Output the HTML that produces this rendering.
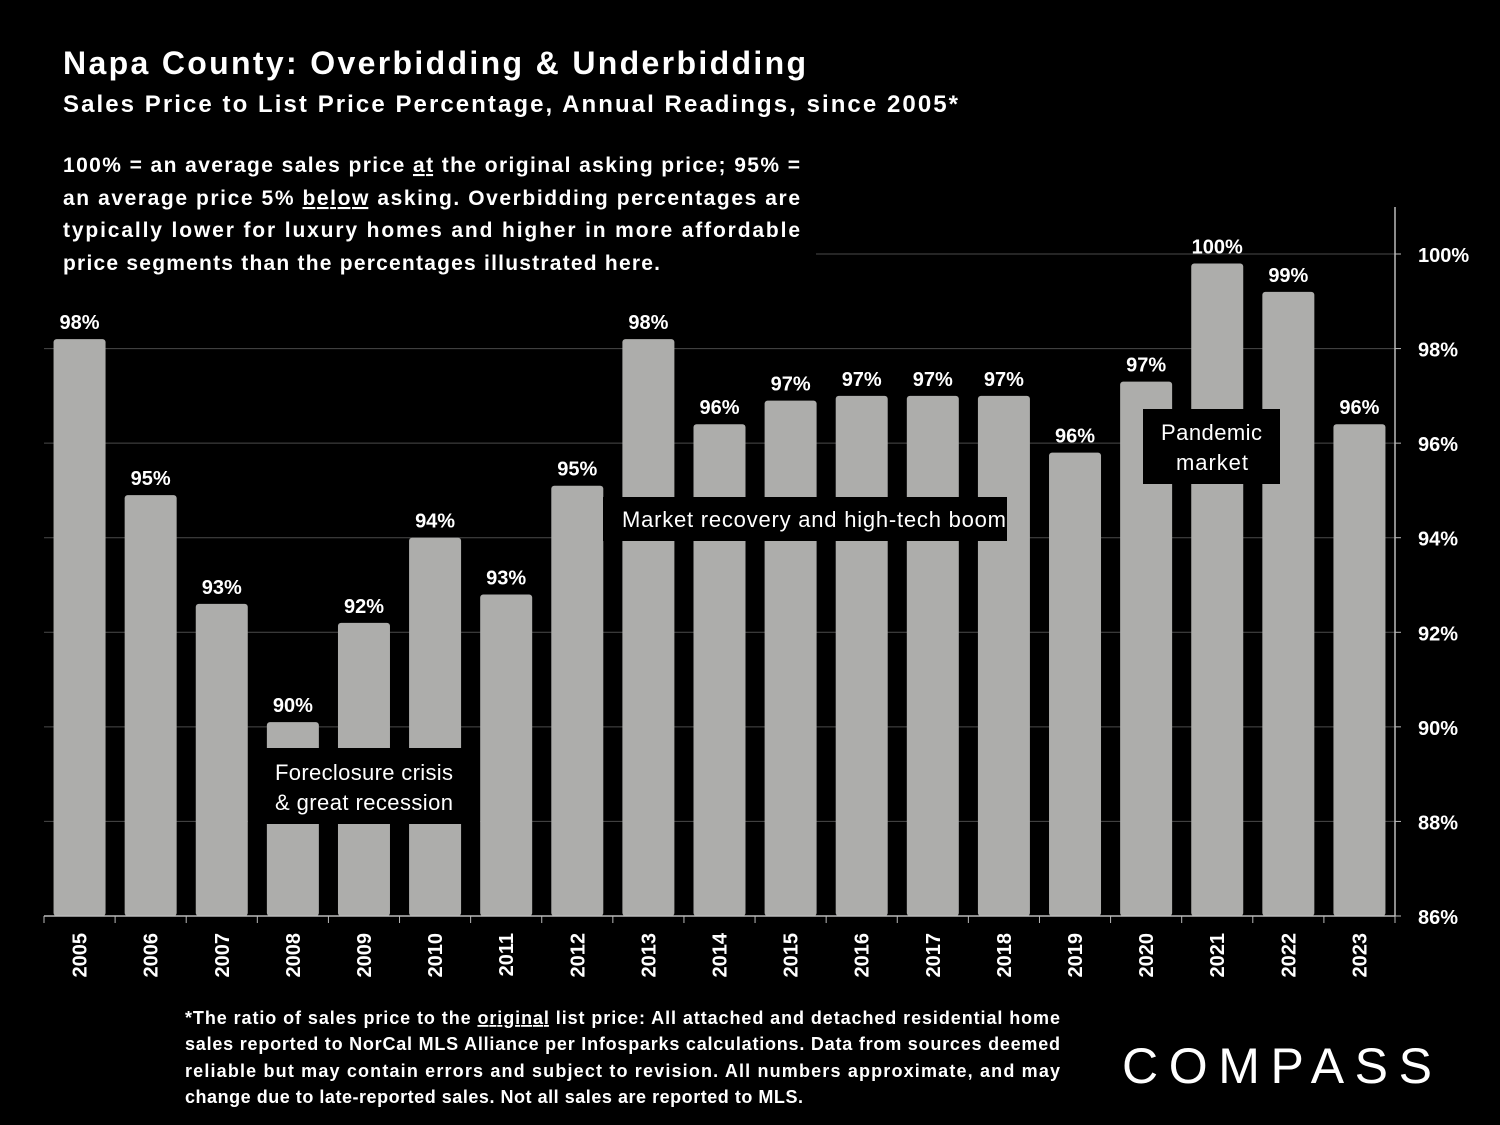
<!DOCTYPE html>
<html><head><meta charset="utf-8"><style>
html,body{margin:0;padding:0;background:#000;}
svg{display:block;font-family:"Liberation Sans",sans-serif;font-weight:bold;}
</style></head><body>
<svg id="chart" width="1500" height="1125" viewBox="0 0 1500 1125">
<rect width="1500" height="1125" fill="#000"/>
<text x="63" y="74" fill="#fff" font-size="32" textLength="743">Napa County: Overbidding &amp; Underbidding</text>
<text x="63" y="112" fill="#fff" font-size="24" textLength="895">Sales Price to List Price Percentage, Annual Readings, since 2005*</text>
<g id="grid"></g>
<g id="bars"></g>
<g id="axes"></g>
<g id="notes"></g>
<text x="1122" y="1083" fill="#fff" font-size="50" font-weight="normal" textLength="318" letter-spacing="8">COMPASS</text>
</svg>
<script>
const years=['2005','2006','2007','2008','2009','2010','2011','2012','2013','2014','2015','2016','2017','2018','2019','2020','2021','2022','2023'];
const values=[98.2,94.9,92.6,90.1,92.2,94.0,92.8,95.1,98.2,96.4,96.9,97.0,97.0,97.0,95.8,97.3,99.8,99.2,96.4];
const valueLabels=['98%','95%','93%','90%','92%','94%','93%','95%','98%','96%','97%','97%','97%','97%','96%','97%','100%','99%','96%'];
const ticks=[86,88,90,92,94,96,98,100];
const tickLabels=['86%','88%','90%','92%','94%','96%','98%','100%'];
const NS='http://www.w3.org/2000/svg';
const X0=44,X1=1395,Y0=916,YT=254,BAND=(X1-X0)/years.length,BW=52;
const y=v=>Y0-(v-86)*(Y0-YT)/14;
const xc=i=>X0+BAND*(i+0.5);
function mk(tag,attrs,parent,text){const e=document.createElementNS(NS,tag);for(const k in attrs)e.setAttribute(k,attrs[k]);if(text!==undefined)e.textContent=text;(typeof parent==='string'?document.getElementById(parent):parent).appendChild(e);return e;}
ticks.forEach((t,i)=>{
  const g=mk('line',{x1:X0,x2:X1,y1:y(t),y2:y(t),stroke:'#4a4a4a','stroke-width':1},'grid');
  
  
  const l=mk('text',{x:1418,y:y(t)+8,fill:'#fff','font-size':20},'axes',tickLabels[i]);
  
  
  mk('line',{x1:X1,x2:X1+6,y1:y(t),y2:y(t),stroke:'#bbb'},'axes');
});
mk('line',{x1:X1,x2:X1,y1:207,y2:Y0,stroke:'#bbb','stroke-width':1.5},'axes');
mk('line',{x1:X0,x2:X1,y1:Y0,y2:Y0,stroke:'#bbb','stroke-width':1.5},'axes');
years.forEach((yr,i)=>{
  const v=values[i];
  const b=mk('rect',{x:xc(i)-BW/2,y:y(v),width:BW,height:Y0-y(v),fill:'#adadab',rx:3},'bars');
  
  
  const t=mk('text',{x:xc(i),y:y(v)-10,fill:'#fff','font-size':20,'text-anchor':'middle'},'bars',valueLabels[i]);
  
  
  mk('line',{x1:X0+BAND*i,x2:X0+BAND*i,y1:Y0,y2:Y0+7,stroke:'#bbb'},'axes');
  const xl=mk('text',{x:0,y:0,fill:'#fff','font-size':20,'text-anchor':'end',transform:`translate(${xc(i)+7},${Y0+17}) rotate(-90)`},'axes',yr);
  
  
});
mk('line',{x1:X1,x2:X1,y1:Y0,y2:Y0+7,stroke:'#bbb'},'axes');
function box(x,yy,w,h,lines,name){
  const r=mk('rect',{x:x,y:yy,width:w,height:h,fill:'#000'},'notes');
  
  
  lines.forEach(ln=>{const t=mk('text',{x:ln[2],y:ln[1],fill:'#fff','font-size':22,'font-weight':'normal',textLength:ln[3]},'notes',ln[0]);
  
  });
}
box(248,748,232,76,[['Foreclosure crisis',780,275,178],['& great recession',810,275,178]],'recession-annotation');
box(603,497,404,44,[['Market recovery and high-tech boom',527,622,384]],'recovery-annotation');
box(1143,409,137,75,[['Pandemic',440,1161,101],['market',470,1176,72]],'pandemic-annotation');
const d=mk('rect',{x:44,y:145,width:772,height:132,fill:'#000'},'notes');


function richLine(parts,x,yy,size,len,name){
  const t=mk('text',{x:x,y:yy,fill:'#fff','font-size':size,textLength:len},'notes');
  
  
  parts.forEach(p=>{const s=mk('tspan',{},t,p[0]);if(p[1])s.setAttribute('text-decoration','underline');});
}
richLine([['100% = an average sales price '],['at',1],[' the original asking price; 95% =']],63,172,21,737,'description-text');
richLine([['an average price 5% '],['below',1],[' asking. Overbidding percentages are']],63,205,21,737,'description-text');
richLine([['typically lower for luxury homes and higher in more affordable']],63,237,21,737,'description-text');
richLine([['price segments than the percentages illustrated here.']],63,270,21,597,'description-text');
richLine([['*The ratio of sales price to the '],['original',1],[' list price: All attached and detached residential home']],185,1024,18,875,'footnote-text');
richLine([['sales reported to NorCal MLS Alliance per Infosparks calculations. Data from sources deemed']],185,1050,18,875,'footnote-text');
richLine([['reliable but may contain errors and subject to revision. All numbers approximate, and may']],185,1077,18,875,'footnote-text');
richLine([['change due to late-reported sales. Not all sales are reported to MLS.']],185,1103,18,618,'footnote-text');
</script>
</body></html>
